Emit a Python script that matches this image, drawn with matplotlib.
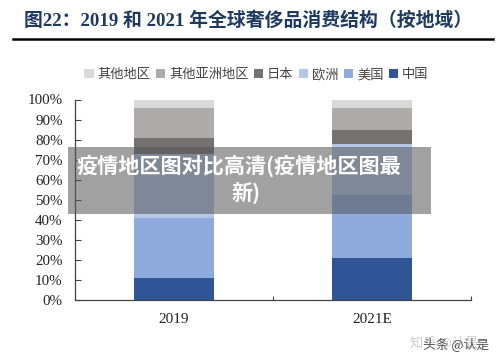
import matplotlib
matplotlib.use("Agg")
import matplotlib.pyplot as plt
from matplotlib.patches import Rectangle

plt.rcParams['font.family'] = ['Liberation Serif', 'Noto Sans CJK SC', 'DejaVu Sans']

W, H = 500, 362
CJK = ['Noto Sans CJK SC', 'DejaVu Sans']

years = ["2019", "2021E"]
regions = ["中国", "美国", "欧洲", "日本", "其他亚洲地区", "其他地区"]
colors = ["#2f5597", "#8faadc", "#b4c7e7", "#767171", "#afabab", "#d9d9d9"]
china = [11, 21]
usa = [30, 31.5]
europe = [32, 25.5]
japan = [8, 7]
other_asia = [15, 11]
other = [4, 4]
series = [china, usa, europe, japan, other_asia, other]
yticks = [0, 10, 20, 30, 40, 50, 60, 70, 80, 90, 100]

fig = plt.figure(figsize=(W / 100, H / 100), dpi=100)

# axes placed in pixels of the reference
ax = fig.add_axes([75 / W, 1 - 300 / H, (471 - 75) / W, (300 - 99.5) / H])
bottom = [0, 0]
for vals, col, lab in zip(series, colors, regions):
    ax.bar([0, 1], vals, 0.4, bottom=bottom, color=col, label=lab)
    bottom = [b + v for b, v in zip(bottom, vals)]

ax.set_xlim(-0.5, 1.5)
ax.set_ylim(0, 100)
ax.set_xticks([-0.5, 0.5, 1.5])
ax.set_xticklabels([])
ax.set_yticks(yticks)
ax.set_yticklabels([f"{t}%" for t in yticks], fontsize=10.8, color="#222222")
ax.tick_params(axis="y", length=4, width=0.8, color="#444444", pad=9, direction="in")
ax.tick_params(axis="x", length=3, width=0.8, color="#444444", direction="in")
for s in ["top", "right"]:
    ax.spines[s].set_visible(False)
for s in ["left", "bottom"]:
    ax.spines[s].set_color("#444444")
    ax.spines[s].set_linewidth(0.9)
for i, y in enumerate(years):
    ax.text(i, -6.3, y, ha="center", va="top", fontsize=11, color="#222222")

# legend order is reversed in the picture
h, l = ax.get_legend_handles_labels()
fig.legend(h[::-1], l[::-1], loc="center", bbox_to_anchor=(0.513, 1 - 75 / H), ncol=6,
           frameon=False, fontsize=9.5, handlelength=0.7, handleheight=0.7,
           handletextpad=0.3, columnspacing=0.4, labelcolor="#444444")

# title and rule
fig.text(24 / W, 1 - 21 / H, "图22：2019 和 2021 年全球奢侈品消费结构（按地域）", fontsize=13.6,
         fontweight="bold", color="#1f3a5f", va="center", ha="left")
fig.add_artist(plt.Line2D([13 / W, 493 / W], [1 - 39 / H, 1 - 39 / H], color="black", lw=1.8))

# grey caption band across the chart
fig.add_artist(Rectangle((68 / W, 1 - 214 / H), (431 - 68) / W, (214 - 147) / H,
                         transform=fig.transFigure, facecolor="#555555", alpha=0.55, lw=0, zorder=5))
fig.text(239 / W, 1 - 166 / H, "疫情地区图对比高清(疫情地区图最", fontsize=15.2, fontweight="bold",
         color="white", ha="center", va="center", zorder=6, family=CJK)
fig.text(246 / W, 1 - 193 / H, "新)", fontsize=15.2, fontweight="bold",
         color="white", ha="center", va="center", zorder=6, family=CJK)

# watermarks
fig.text(410 / W, 1 - 342 / H, "知乎 @认是", fontsize=9.5, color="#cccccc", ha="left", va="center", family=CJK)
fig.text(423 / W, 1 - 345 / H, "头条 @认是", fontsize=9.2, color="#555555", ha="left", va="center", family=CJK)

fig.savefig("out.png", dpi=100)
